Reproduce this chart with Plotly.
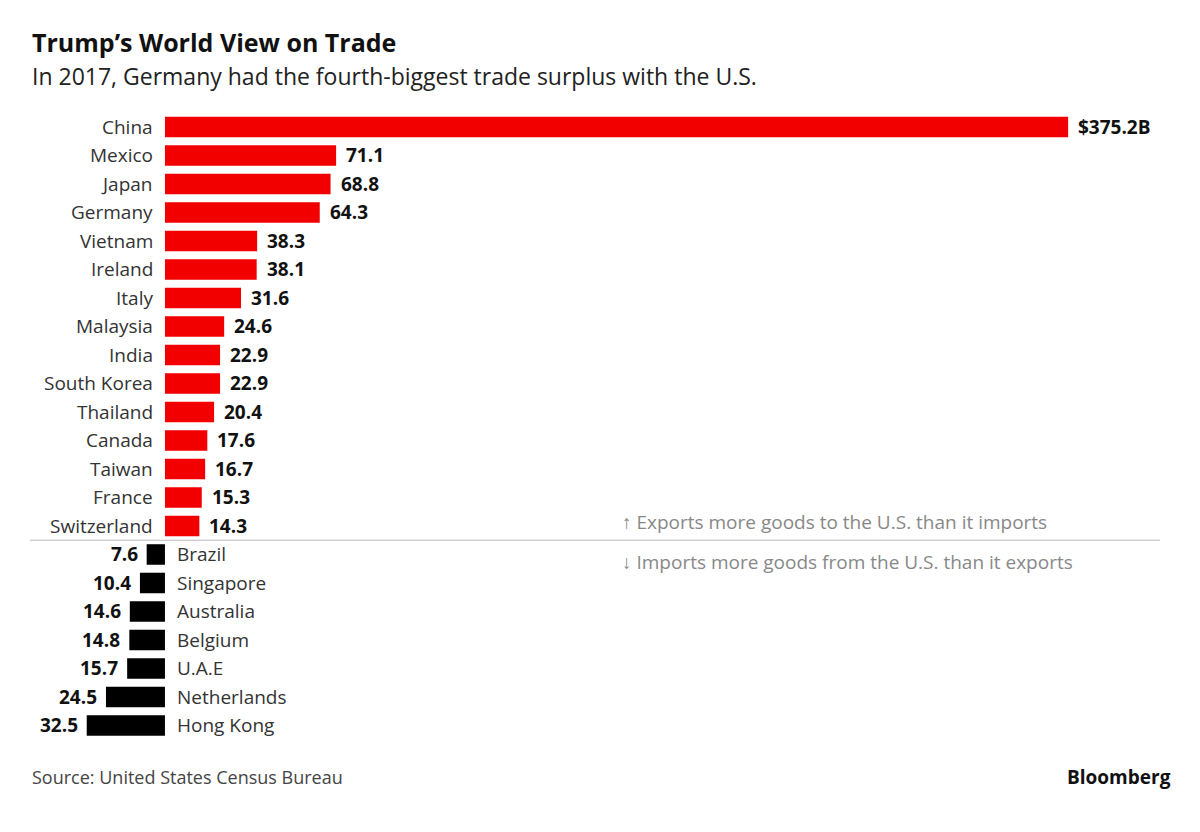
import plotly.graph_objects as go

surplus_countries = ["China", "Mexico", "Japan", "Germany", "Vietnam", "Ireland", "Italy",
                     "Malaysia", "India", "South Korea", "Thailand", "Canada", "Taiwan",
                     "France", "Switzerland"]
surplus_values = [375.2, 71.1, 68.8, 64.3, 38.3, 38.1, 31.6, 24.6, 22.9, 22.9, 20.4,
                  17.6, 16.7, 15.3, 14.3]
deficit_countries = ["Brazil", "Singapore", "Australia", "Belgium", "U.A.E", "Netherlands",
                     "Hong Kong"]
deficit_values = [7.6, 10.4, 14.6, 14.8, 15.7, 24.5, 32.5]

FONT = "Open Sans"
n_pos = len(surplus_countries)
pos_rows = list(range(n_pos))
neg_rows = list(range(n_pos, n_pos + len(deficit_countries)))

fig = go.Figure()
fig.add_trace(go.Bar(x=surplus_values, y=pos_rows, orientation="h",
                     marker=dict(color="#f20000", line_width=0), width=0.72))
fig.add_trace(go.Bar(x=[-v for v in deficit_values], y=neg_rows, orientation="h",
                     marker=dict(color="#000000", line_width=0), width=0.72))

ann = []
for i, (c, v) in enumerate(zip(surplus_countries, surplus_values)):
    ann.append(dict(x=0, y=i, text=c, xanchor="right", xshift=-10, showarrow=False,
                    font=dict(size=19, color="#333")))
    label = f"${v}B" if i == 0 else f"{v}"
    ann.append(dict(x=v, y=i, text=f"<b>{label}</b>", xanchor="left", xshift=8,
                    showarrow=False, font=dict(size=19, color="#111")))
for j, (c, v) in enumerate(zip(deficit_countries, deficit_values)):
    r = n_pos + j
    ann.append(dict(x=0, y=r, text=c, xanchor="left", xshift=10, showarrow=False,
                    font=dict(size=19, color="#333")))
    ann.append(dict(x=-v, y=r, text=f"<b>{v}</b>", xanchor="right", xshift=-7,
                    showarrow=False, font=dict(size=19, color="#111")))

def px(xp, yp):
    return (xp - 8) / 1200, 1 - (yp - 8) / 832

def note(xp, yp, text, size, color, anchor="left"):
    x, y = px(xp, yp)
    return dict(x=x, y=y, xref="paper", yref="paper", xanchor=anchor, yanchor="middle",
                text=text, showarrow=False, font=dict(size=size, color=color))

ann += [
    note(30, 42, "<b>Trump’s World View on Trade</b>", 25, "#111"),
    note(30, 76, "In 2017, Germany had the fourth-biggest trade surplus with the U.S.", 23, "#222"),
    note(620, 522, "<b>↑</b> Exports more goods to the U.S. than it imports", 19, "#888"),
    note(620, 562, "<b>↓</b> Imports more goods from the U.S. than it exports", 19, "#888"),
    note(30, 777, "Source: United States Census Bureau", 18, "#444"),
    note(1173, 777, "<b>Bloomberg</b>", 19, "#111", anchor="right"),
]

lx0, _ = px(30, 0)
lx1, _ = px(1160, 0)
fig.update_layout(
    width=1200, height=832, margin=dict(l=0, r=0, t=0, b=0),
    paper_bgcolor="white", plot_bgcolor="white", showlegend=False, barmode="overlay",
    font=dict(family=FONT),
    xaxis=dict(range=[-65.2, 433.3], visible=False, fixedrange=True),
    yaxis=dict(range=[25.018, -4.175], visible=False, fixedrange=True),
    annotations=ann,
    shapes=[dict(type="line", xref="paper", x0=lx0, x1=lx1, y0=n_pos - 0.5,
                 y1=n_pos - 0.5, line=dict(color="#bbb", width=1))],
)
fig.write_html("out.html")
